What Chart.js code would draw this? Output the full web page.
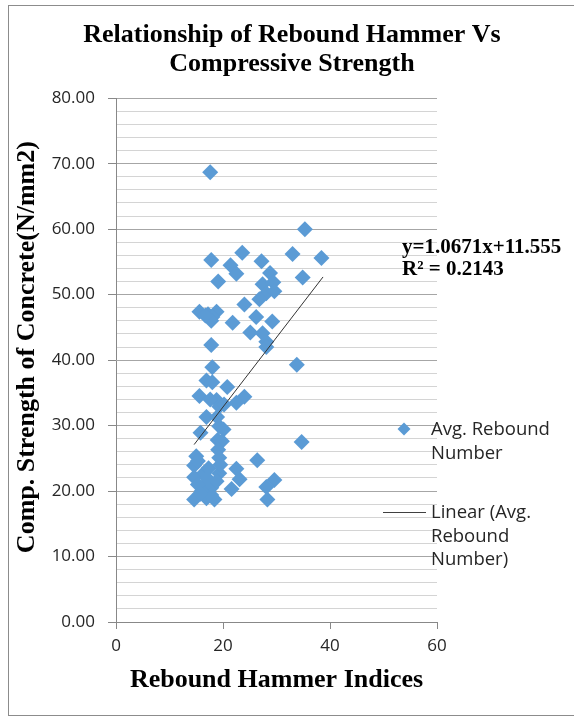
<!DOCTYPE html>
<html>
<head>
<meta charset="utf-8">
<script src="https://cdn.jsdelivr.net/npm/chart.js"></script>
<style>
  body { margin: 0; background: #fff; }
  #wrap { position: relative; width: 574px; height: 717px; overflow: hidden; }
  #frame { position: absolute; left: 8px; top: 5px; width: 600px; height: 711px; border: 1px solid #8c8c8c; box-sizing: border-box; }
  #chart { position: absolute; left: 0; top: 0; }
</style>
</head>
<body>
<div id="wrap">
  <div id="frame"></div>
  <canvas id="chart" width="574" height="717"></canvas>
</div>
<script>
// Avg. rebound number (x) and compressive strength N/mm2 (y)
const reboundIdx = [
  17.6, 35.3, 38.4, 33.0, 23.6, 17.8, 27.2, 21.4, 22.5, 28.8,
  34.9, 19.1, 27.4, 29.4, 28.1, 29.6, 26.8, 24.0, 15.6, 18.8,
  17.2, 18.0, 17.8, 16.7, 26.2, 29.2, 21.8, 25.1, 27.4, 28.1,
  28.1, 17.8, 33.8, 18.0, 16.9, 18.0, 20.8, 15.6, 18.8, 24.0,
  22.5, 19.3, 20.2, 17.6, 16.9, 18.9, 19.3, 20.1, 15.8, 19.0,
  19.8, 34.7, 15.0, 19.1, 19.3, 26.4, 14.6, 15.3, 22.5, 19.3,
  23.1, 29.6, 14.6, 16.5, 16.9, 17.8, 21.6, 28.1, 14.6, 16.9,
  17.8, 16.0, 18.8, 28.3, 15.3, 17.3, 18.4, 19.5, 15.8, 17.0
];
const compStrength = [
  68.7, 60.0, 55.6, 56.2, 56.4, 55.3, 55.1, 54.5, 53.2, 53.3,
  52.6, 52.0, 51.6, 51.9, 50.2, 50.5, 49.3, 48.5, 47.4, 47.4,
  47.0, 46.6, 46.0, 46.8, 46.6, 45.9, 45.7, 44.2, 44.1, 42.8,
  42.0, 42.3, 39.3, 38.9, 36.9, 36.6, 35.9, 34.5, 33.9, 34.4,
  33.5, 32.9, 33.2, 34.0, 31.3, 31.3, 29.9, 29.4, 28.9, 27.8,
  27.6, 27.5, 25.3, 26.3, 25.1, 24.7, 23.9, 24.6, 23.4, 22.7,
  21.8, 21.7, 22.1, 22.8, 21.2, 20.5, 20.3, 20.6, 18.7, 18.9,
  19.4, 20.0, 21.5, 18.7, 21.0, 23.5, 18.7, 24.0, 19.6, 22.0
];
// trend line end points (as drawn)
const trendX = [14.6, 38.7];
const trendY = [27.1, 52.7];

const xTicks = [0, 20, 40, 60];
const yMax = 80;

const titleLines = ['Relationship of Rebound Hammer Vs', 'Compressive Strength'];
const equationLines = ['y=1.0671x+11.555', 'R\u00b2 = 0.2143'];
const legendScatter = ['Avg. Rebound', 'Number'];
const legendTrend = ['Linear (Avg.', 'Rebound', 'Number)'];

const serif = '"Liberation Serif", "Times New Roman", serif';
const sans = '"Open Sans", "Liberation Sans", sans-serif';
const blue = '#5b9bd5';

const scatterPts = reboundIdx.map((x, i) => ({ x: x, y: compStrength[i] }));
const trendPts = trendX.map((x, i) => ({ x: x, y: trendY[i] }));

// legend + trendline equation, drawn next to the plot
const sideText = {
  id: 'sideText',
  afterDraw(chart) {
    const ctx = chart.ctx;
    ctx.save();
    ctx.fillStyle = '#000';
    ctx.font = 'bold 21px ' + serif;
    ctx.textBaseline = 'middle';
    equationLines.forEach((t, i) => ctx.fillText(t, 402, 248 + i * 21.5));

    ctx.fillStyle = '#262626';
    ctx.font = '18.5px ' + sans;
    legendScatter.forEach((t, i) => ctx.fillText(t, 431, 430 + i * 23.5));
    legendTrend.forEach((t, i) => ctx.fillText(t, 431, 513 + i * 23.5));

    ctx.fillStyle = blue;
    Chart.helpers.drawPoint(ctx, { pointStyle: 'rectRot', radius: 6.5, borderWidth: 0 }, 404, 429);
    ctx.strokeStyle = '#404040';
    ctx.lineWidth = 1;
    ctx.beginPath();
    ctx.moveTo(383, 512.5);
    ctx.lineTo(426, 512.5);
    ctx.stroke();
    ctx.restore();
  }
};

new Chart(document.getElementById('chart'), {
  type: 'scatter',
  data: {
    datasets: [
      {
        label: 'Avg. Rebound Number',
        data: scatterPts,
        pointStyle: 'rectRot',
        pointRadius: 8,
        pointHoverRadius: 8,
        backgroundColor: blue,
        borderColor: blue,
        borderWidth: 0,
        order: 2
      },
      {
        label: 'Linear (Avg. Rebound Number)',
        type: 'line',
        data: trendPts,
        showLine: true,
        pointRadius: 0,
        borderColor: '#333',
        borderWidth: 1,
        order: 1
      }
    ]
  },
  options: {
    responsive: false,
    animation: false,
    layout: { padding: { left: 10, top: 5, right: 0, bottom: 20 } },
    plugins: {
      legend: { display: false },
      tooltip: { enabled: false },
      title: {
        display: true,
        text: titleLines,
        color: '#000',
        font: { family: serif, size: 26, weight: 'bold', lineHeight: 1.1 },
        padding: { top: 16, bottom: 20 }
      }
    },
    scales: {
      x: {
        type: 'linear',
        min: 0,
        max: 60,
        afterFit: s => { s.height = 75; },
        afterBuildTicks: s => { s.ticks = xTicks.map(v => ({ value: v })); },
        grid: { drawOnChartArea: false, tickLength: 7, color: '#888' },
        border: { color: '#888' },
        ticks: { color: '#262626', font: { family: sans, size: 17 }, padding: 7 },
        title: {
          display: true,
          text: 'Rebound Hammer Indices',
          color: '#000',
          font: { family: serif, size: 26, weight: 'bold', lineHeight: 1.2 },
          padding: { top: 0, bottom: 1 }
        }
      },
      y: {
        min: 0,
        max: yMax,
        afterFit: s => { s.width = 106; },
        grid: {
          tickLength: 8,
          color: c => (c.tick && c.tick.value % 10 === 0) ? '#a6a6a6' : '#d4d4d4',
          tickColor: c => (c.tick && c.tick.value % 10 === 0) ? '#888' : 'rgba(0,0,0,0)'
        },
        border: { color: '#888' },
        ticks: {
          stepSize: 2,
          autoSkip: false,
          padding: 13,
          color: '#262626',
          font: { family: sans, size: 17 },
          callback: v => v % 10 === 0 ? v.toFixed(2) : ''
        },
        title: {
          display: true,
          // leading spaces nudge the rotated title up a little, as in the original
          text: '\u00a0\u00a0\u00a0\u00a0Comp. Strength of Concrete(N/mm2)',
          color: '#000',
          font: { family: serif, size: 26, weight: 'bold', lineHeight: 1.2 },
          padding: { top: 2, bottom: 0 }
        }
      },
      // empty right-hand box that keeps room for the legend and equation
      side: {
        type: 'linear',
        position: 'right',
        min: 0,
        max: 1,
        afterFit: s => { s.width = 137; },
        grid: { display: false },
        border: { display: false },
        ticks: { display: false }
      }
    }
  },
  plugins: [sideText]
});
</script>
</body>
</html>
